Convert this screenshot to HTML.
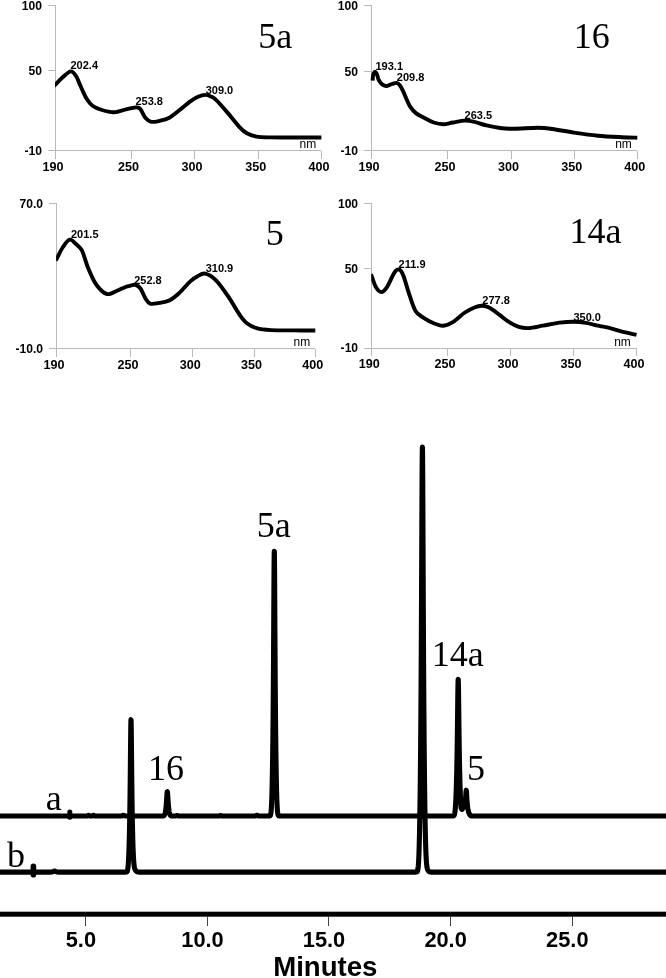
<!DOCTYPE html>
<html><head><meta charset="utf-8"><title>HPLC chromatogram and UV spectra</title>
<style>
html,body{margin:0;padding:0;background:#fff;}
body{width:666px;height:978px;overflow:hidden;}
svg{display:block;}
text{fill:#000;}
.ab12 text{font-family:"Liberation Sans",Arial,sans-serif;font-weight:bold;font-size:12.1px;}
.ab12x text{font-family:"Liberation Sans",Arial,sans-serif;font-weight:bold;font-size:12.6px;}
.ab11 text{font-family:"Liberation Sans",Arial,sans-serif;font-weight:bold;font-size:11px;}
.ab19 text{font-family:"Liberation Sans",Arial,sans-serif;font-weight:bold;font-size:21.8px;}
.nm{font-family:"Liberation Sans",Arial,sans-serif;font-size:12px;}
.minutes{font-family:"Liberation Sans",Arial,sans-serif;font-weight:bold;font-size:27.6px;}
.ser34{font-family:"Liberation Serif","Times New Roman",serif;font-size:36px;}
.ser35 text{font-family:"Liberation Serif","Times New Roman",serif;font-size:36px;}
</style></head><body>
<svg width="666" height="978" viewBox="0 0 666 978">
<rect width="666" height="978" fill="#fff"/>
<g stroke="#b9b9b9" stroke-width="1" fill="none" shape-rendering="crispEdges">
<line x1="55.5" y1="5.5" x2="55.5" y2="158.5"/>
<line x1="47.5" y1="150.5" x2="321.4" y2="150.5"/>
<line x1="47.5" y1="5.5" x2="55.5" y2="5.5"/>
<line x1="47.5" y1="70.5" x2="55.5" y2="70.5"/>
<line x1="131.0" y1="150.5" x2="131.0" y2="158.5"/>
<line x1="194.5" y1="150.5" x2="194.5" y2="158.5"/>
<line x1="258.2" y1="150.5" x2="258.2" y2="158.5"/>
<line x1="321.4" y1="150.5" x2="321.4" y2="158.5"/>
</g>
<g class="ab12">
<text x="41.9" y="9.8" text-anchor="end">100</text>
<text x="41.9" y="74.8" text-anchor="end">50</text>
<text x="41.9" y="154.8" text-anchor="end">-10</text>
</g>
<g class="ab12x">
<text x="53.0" y="170.8" text-anchor="middle">190</text>
<text x="128.5" y="170.8" text-anchor="middle">250</text>
<text x="192.0" y="170.8" text-anchor="middle">300</text>
<text x="255.7" y="170.8" text-anchor="middle">350</text>
<text x="318.9" y="170.8" text-anchor="middle">400</text>
</g>
<clipPath id="cp1"><rect x="55.0" y="0.5" width="271.9" height="150.0"/></clipPath>
<path clip-path="url(#cp1)" d="M53.16,86.71 C53.52,86.36 53.66,86.22 55.30,84.60 C56.94,82.98 60.42,79.20 63.00,77.00 C65.58,74.80 68.63,71.57 70.80,71.40 C72.97,71.23 74.30,73.40 76.00,76.00 C77.70,78.60 79.25,83.25 81.00,87.00 C82.75,90.75 84.58,95.38 86.50,98.50 C88.42,101.62 89.92,103.78 92.50,105.70 C95.08,107.62 98.42,108.92 102.00,110.00 C105.58,111.08 110.00,112.32 114.00,112.20 C118.00,112.08 122.83,110.03 126.00,109.30 C129.17,108.57 131.17,108.12 133.00,107.80 C134.83,107.48 135.75,107.15 137.00,107.40 C138.25,107.65 139.12,107.58 140.50,109.30 C141.88,111.02 143.50,115.62 145.30,117.70 C147.10,119.78 148.90,121.28 151.30,121.80 C153.70,122.32 156.70,121.48 159.70,120.80 C162.70,120.12 166.08,119.42 169.30,117.70 C172.52,115.98 175.55,113.17 179.00,110.50 C182.45,107.83 186.83,103.98 190.00,101.70 C193.17,99.42 195.45,97.93 198.00,96.80 C200.55,95.67 203.17,94.95 205.30,94.90 C207.43,94.85 209.05,95.70 210.80,96.50 C212.55,97.30 212.98,96.97 215.80,99.70 C218.62,102.43 223.72,108.30 227.70,112.90 C231.68,117.50 236.50,123.90 239.70,127.30 C242.90,130.70 244.10,131.75 246.90,133.30 C249.70,134.85 252.50,135.92 256.50,136.60 C260.50,137.28 264.48,137.26 270.90,137.40 C277.32,137.54 286.58,137.44 295.00,137.45 C303.42,137.46 317.00,137.45 321.40,137.45" fill="none" stroke="#000" stroke-width="3.9" stroke-linecap="butt" stroke-linejoin="round"/>
<g class="ab11">
<text x="70.5" y="69.2">202.4</text>
<text x="135.4" y="105.3">253.8</text>
<text x="205.7" y="93.5">309.0</text>
</g>
<text class="nm" x="299.5" y="148.4">nm</text>
<text class="ser34" x="258.2" y="48.0">5a</text>
<g stroke="#b9b9b9" stroke-width="1" fill="none" shape-rendering="crispEdges">
<line x1="371.5" y1="5.5" x2="371.5" y2="158.5"/>
<line x1="363.5" y1="150.5" x2="637.3" y2="150.5"/>
<line x1="363.5" y1="5.5" x2="371.5" y2="5.5"/>
<line x1="363.5" y1="71.5" x2="371.5" y2="71.5"/>
<line x1="447.4" y1="150.5" x2="447.4" y2="158.5"/>
<line x1="511.1" y1="150.5" x2="511.1" y2="158.5"/>
<line x1="574.3" y1="150.5" x2="574.3" y2="158.5"/>
<line x1="637.3" y1="150.5" x2="637.3" y2="158.5"/>
</g>
<g class="ab12">
<text x="357.9" y="9.8" text-anchor="end">100</text>
<text x="357.9" y="75.8" text-anchor="end">50</text>
<text x="357.9" y="154.8" text-anchor="end">-10</text>
</g>
<g class="ab12x">
<text x="369.0" y="170.8" text-anchor="middle">190</text>
<text x="444.9" y="170.8" text-anchor="middle">250</text>
<text x="508.6" y="170.8" text-anchor="middle">300</text>
<text x="571.8" y="170.8" text-anchor="middle">350</text>
<text x="634.8" y="170.8" text-anchor="middle">400</text>
</g>
<path d="M372.60,80.60 C372.65,79.92 372.72,77.72 372.90,76.50 C373.08,75.28 373.35,74.08 373.70,73.30 C374.05,72.52 374.55,71.80 375.00,71.80 C375.45,71.80 375.97,72.53 376.40,73.30 C376.83,74.07 377.18,75.25 377.60,76.40 C378.02,77.55 378.13,78.87 378.90,80.20 C379.67,81.53 380.88,83.43 382.20,84.40 C383.52,85.37 385.17,86.07 386.80,86.00 C388.43,85.93 390.38,84.52 392.00,84.00 C393.62,83.48 395.17,82.65 396.50,82.90 C397.83,83.15 398.88,84.10 400.00,85.50 C401.12,86.90 402.08,88.97 403.20,91.30 C404.32,93.63 405.52,96.90 406.70,99.50 C407.88,102.10 408.72,104.58 410.30,106.90 C411.88,109.22 413.92,111.60 416.20,113.40 C418.48,115.20 421.08,116.18 424.00,117.70 C426.92,119.22 430.48,121.42 433.70,122.50 C436.92,123.58 440.10,124.20 443.30,124.20 C446.50,124.20 449.30,123.10 452.90,122.50 C456.50,121.90 461.30,120.72 464.90,120.60 C468.50,120.48 470.90,121.00 474.50,121.80 C478.10,122.60 482.25,124.37 486.50,125.40 C490.75,126.43 495.42,127.43 500.00,128.00 C504.58,128.57 507.67,128.83 514.00,128.80 C520.33,128.77 531.58,127.77 538.00,127.80 C544.42,127.83 546.50,128.20 552.50,129.00 C558.50,129.80 566.42,131.48 574.00,132.60 C581.58,133.72 590.00,134.93 598.00,135.70 C606.00,136.47 615.45,136.87 622.00,137.20 C628.55,137.53 634.75,137.62 637.30,137.70" fill="none" stroke="#000" stroke-width="3.9" stroke-linecap="butt" stroke-linejoin="round"/>
<g class="ab11">
<text x="375.5" y="69.5">193.1</text>
<text x="396.8" y="80.8">209.8</text>
<text x="464.6" y="119.1">263.5</text>
</g>
<text class="nm" x="615.2" y="148.2">nm</text>
<text class="ser34" x="573.8" y="47.9">16</text>
<g stroke="#b9b9b9" stroke-width="1" fill="none" shape-rendering="crispEdges">
<line x1="56.6" y1="203.6" x2="56.6" y2="356.8"/>
<line x1="48.6" y1="348.8" x2="315.3" y2="348.8"/>
<line x1="48.6" y1="203.6" x2="56.6" y2="203.6"/>
<line x1="130.4" y1="348.8" x2="130.4" y2="356.8"/>
<line x1="192.8" y1="348.8" x2="192.8" y2="356.8"/>
<line x1="254.1" y1="348.8" x2="254.1" y2="356.8"/>
<line x1="315.3" y1="348.8" x2="315.3" y2="356.8"/>
</g>
<g class="ab12">
<text x="43.0" y="207.9" text-anchor="end">70.0</text>
<text x="43.0" y="353.1" text-anchor="end">-10.0</text>
</g>
<g class="ab12x">
<text x="54.1" y="369.1" text-anchor="middle">190</text>
<text x="127.9" y="369.1" text-anchor="middle">250</text>
<text x="190.3" y="369.1" text-anchor="middle">300</text>
<text x="251.6" y="369.1" text-anchor="middle">350</text>
<text x="312.8" y="369.1" text-anchor="middle">400</text>
</g>
<clipPath id="cp3"><rect x="56.1" y="198.6" width="264.7" height="150.2"/></clipPath>
<path clip-path="url(#cp3)" d="M55.68,260.64 C55.92,260.20 55.88,260.27 57.10,258.00 C58.32,255.73 60.92,250.05 63.00,247.00 C65.08,243.95 67.43,240.20 69.60,239.70 C71.77,239.20 73.98,242.28 76.00,244.00 C78.02,245.72 80.25,247.67 81.70,250.00 C83.15,252.33 83.70,255.18 84.70,258.00 C85.70,260.82 86.00,262.82 87.70,266.90 C89.40,270.98 92.77,278.72 94.90,282.50 C97.03,286.28 98.90,287.85 100.50,289.60 C102.10,291.35 103.28,292.25 104.50,293.00 C105.72,293.75 106.63,294.05 107.80,294.10 C108.97,294.15 110.13,293.77 111.50,293.30 C112.87,292.83 113.57,292.38 116.00,291.30 C118.43,290.22 123.43,287.82 126.10,286.80 C128.77,285.78 130.40,285.52 132.00,285.20 C133.60,284.88 134.28,284.35 135.70,284.90 C137.12,285.45 138.90,286.30 140.50,288.50 C142.10,290.70 143.70,295.58 145.30,298.10 C146.90,300.62 147.70,302.80 150.10,303.60 C152.50,304.40 156.50,303.42 159.70,302.90 C162.90,302.38 166.08,302.10 169.30,300.50 C172.52,298.90 175.55,296.45 179.00,293.30 C182.45,290.15 186.92,284.45 190.00,281.60 C193.08,278.75 194.95,277.53 197.50,276.20 C200.05,274.87 202.25,272.95 205.30,273.60 C208.35,274.25 212.07,276.42 215.80,280.10 C219.53,283.78 223.72,289.90 227.70,295.70 C231.68,301.50 236.50,310.30 239.70,314.90 C242.90,319.50 244.10,321.10 246.90,323.30 C249.70,325.50 252.50,326.97 256.50,328.10 C260.50,329.23 264.48,329.72 270.90,330.10 C277.32,330.48 287.60,330.33 295.00,330.40 C302.40,330.47 311.92,330.48 315.30,330.50" fill="none" stroke="#000" stroke-width="3.9" stroke-linecap="butt" stroke-linejoin="round"/>
<g class="ab11">
<text x="71.0" y="237.8">201.5</text>
<text x="134.2" y="284.0">252.8</text>
<text x="205.7" y="272.0">310.9</text>
</g>
<text class="nm" x="293.5" y="346.3">nm</text>
<text class="ser34" x="265.7" y="245.3">5</text>
<g stroke="#b9b9b9" stroke-width="1" fill="none" shape-rendering="crispEdges">
<line x1="371.7" y1="203.2" x2="371.7" y2="356.1"/>
<line x1="363.7" y1="348.1" x2="636.5" y2="348.1"/>
<line x1="363.7" y1="203.2" x2="371.7" y2="203.2"/>
<line x1="363.7" y1="268.8" x2="371.7" y2="268.8"/>
<line x1="447.4" y1="348.1" x2="447.4" y2="356.1"/>
<line x1="510.4" y1="348.1" x2="510.4" y2="356.1"/>
<line x1="573.6" y1="348.1" x2="573.6" y2="356.1"/>
<line x1="636.5" y1="348.1" x2="636.5" y2="356.1"/>
</g>
<g class="ab12">
<text x="358.1" y="207.5" text-anchor="end">100</text>
<text x="358.1" y="273.1" text-anchor="end">50</text>
<text x="358.1" y="352.4" text-anchor="end">-10</text>
</g>
<g class="ab12x">
<text x="369.2" y="368.4" text-anchor="middle">190</text>
<text x="444.9" y="368.4" text-anchor="middle">250</text>
<text x="507.9" y="368.4" text-anchor="middle">300</text>
<text x="571.1" y="368.4" text-anchor="middle">350</text>
<text x="634.0" y="368.4" text-anchor="middle">400</text>
</g>
<clipPath id="cp4"><rect x="371.2" y="198.2" width="270.8" height="149.9"/></clipPath>
<path clip-path="url(#cp4)" d="M370.91,274.20 C371.09,274.67 371.15,274.82 372.00,277.00 C372.85,279.18 374.45,284.78 376.00,287.30 C377.55,289.82 379.50,292.10 381.30,292.10 C383.10,292.10 384.87,290.10 386.80,287.30 C388.73,284.50 391.38,278.07 392.90,275.30 C394.42,272.53 394.98,271.68 395.90,270.70 C396.82,269.72 397.57,269.38 398.40,269.40 C399.23,269.42 400.02,269.62 400.90,270.80 C401.78,271.98 402.23,272.35 403.70,276.50 C405.17,280.65 407.70,289.90 409.70,295.70 C411.70,301.50 413.50,307.70 415.70,311.30 C417.90,314.90 419.90,315.30 422.90,317.30 C425.90,319.30 430.30,321.90 433.70,323.30 C437.10,324.70 440.10,325.90 443.30,325.70 C446.50,325.50 449.30,324.30 452.90,322.10 C456.50,319.90 461.30,314.93 464.90,312.50 C468.50,310.07 471.70,308.62 474.50,307.50 C477.30,306.38 479.53,305.92 481.70,305.80 C483.87,305.68 485.88,306.28 487.50,306.80 C489.12,307.32 489.38,307.55 491.40,308.90 C493.42,310.25 496.63,312.70 499.60,314.90 C502.57,317.10 506.00,320.10 509.20,322.10 C512.40,324.10 515.60,325.90 518.80,326.90 C522.00,327.90 524.38,328.30 528.40,328.10 C532.42,327.90 537.68,326.62 542.90,325.70 C548.12,324.78 554.50,323.27 559.70,322.60 C564.90,321.93 569.70,321.65 574.10,321.70 C578.50,321.75 582.10,322.23 586.10,322.90 C590.10,323.57 594.10,324.83 598.10,325.70 C602.10,326.57 606.10,327.10 610.10,328.10 C614.10,329.10 617.70,330.57 622.10,331.70 C626.50,332.83 634.10,334.37 636.50,334.90" fill="none" stroke="#000" stroke-width="3.9" stroke-linecap="butt" stroke-linejoin="round"/>
<g class="ab11">
<text x="398.6" y="267.8">211.9</text>
<text x="482.3" y="303.5">277.8</text>
<text x="573.4" y="320.6">350.0</text>
</g>
<text class="nm" x="614.2" y="346.0">nm</text>
<text class="ser34" x="569.4" y="243.4">14a</text>
<g fill="none" stroke="#000" stroke-width="5.1" stroke-linejoin="round" stroke-linecap="round">
<path d="M-3.00,816.00 L86.65,816.00 L86.80,815.99 L86.95,815.98 L87.00,815.98 L87.10,815.97 L87.25,815.94 L87.40,815.91 L87.55,815.85 L87.70,815.77 L87.85,815.68 L88.00,815.58 L88.15,815.47 L88.30,815.38 L88.45,815.32 L88.60,815.30 L88.75,815.32 L88.90,815.38 L89.05,815.47 L89.20,815.58 L89.35,815.68 L89.50,815.77 L89.65,815.85 L89.80,815.91 L89.95,815.94 L90.10,815.97 L90.25,815.98 L90.40,815.99 L90.55,816.00 L91.55,816.00 L91.70,815.99 L91.85,815.98 L92.00,815.97 L92.15,815.94 L92.30,815.91 L92.45,815.85 L92.60,815.77 L92.75,815.68 L92.90,815.58 L93.00,815.51 L93.05,815.47 L93.20,815.38 L93.35,815.32 L93.50,815.30 L93.65,815.32 L93.80,815.38 L93.95,815.47 L94.10,815.58 L94.25,815.68 L94.40,815.77 L94.55,815.85 L94.70,815.91 L94.85,815.94 L95.00,815.97 L95.15,815.98 L95.30,815.99 L95.45,816.00 L120.80,815.99 L120.95,815.99 L121.10,815.98 L121.25,815.97 L121.40,815.96 L121.55,815.94 L121.70,815.91 L121.85,815.86 L122.00,815.81 L122.15,815.75 L122.30,815.68 L122.45,815.60 L122.60,815.52 L122.75,815.45 L122.90,815.38 L123.00,815.35 L123.05,815.33 L123.20,815.31 L123.35,815.30 L123.50,815.32 L123.65,815.36 L123.80,815.42 L123.95,815.50 L124.10,815.58 L124.25,815.65 L124.40,815.73 L124.55,815.79 L124.70,815.85 L124.85,815.89 L125.00,815.93 L125.15,815.95 L125.30,815.97 L125.45,815.98 L125.60,815.99 L125.75,815.99 L126.05,816.00 L162.56,815.99 L162.71,815.99 L162.86,815.98 L163.01,815.97 L163.16,815.95 L163.31,815.93 L163.46,815.89 L163.61,815.84 L163.76,815.77 L163.91,815.67 L164.06,815.53 L164.21,815.36 L164.36,815.14 L164.51,814.86 L164.66,814.52 L164.81,814.11 L164.96,813.63 L165.00,813.49 L165.11,813.06 L165.26,812.41 L165.41,811.65 L165.56,810.78 L165.71,809.78 L165.86,808.64 L166.01,807.33 L166.16,805.84 L166.31,804.12 L166.46,802.15 L166.61,799.91 L166.76,797.46 L166.91,795.01 L167.06,792.98 L167.21,791.80 L167.36,791.69 L167.51,792.67 L167.66,794.55 L167.81,796.95 L167.96,799.43 L168.11,801.72 L168.26,803.75 L168.41,805.51 L168.56,807.05 L168.71,808.39 L168.86,809.56 L169.01,810.59 L169.16,811.48 L169.31,812.26 L169.46,812.94 L169.61,813.52 L169.76,814.02 L169.91,814.45 L170.06,814.80 L170.21,815.09 L170.36,815.32 L170.51,815.50 L170.66,815.64 L170.81,815.75 L170.96,815.83 L171.00,815.84 L171.11,815.88 L171.26,815.92 L171.41,815.95 L171.56,815.97 L171.71,815.98 L171.86,815.99 L172.01,815.99 L172.31,816.00 L174.65,815.99 L174.80,815.99 L174.95,815.98 L175.10,815.97 L175.25,815.95 L175.40,815.93 L175.55,815.90 L175.70,815.87 L175.85,815.82 L176.00,815.77 L176.15,815.72 L176.30,815.66 L176.45,815.61 L176.60,815.56 L176.75,815.52 L176.90,815.50 L177.05,815.50 L177.20,815.52 L177.35,815.55 L177.50,815.59 L177.65,815.64 L177.80,815.70 L177.95,815.75 L178.10,815.81 L178.25,815.85 L178.40,815.89 L178.55,815.92 L178.70,815.95 L178.85,815.97 L179.00,815.98 L179.15,815.99 L179.30,815.99 L179.60,816.00 L218.70,815.99 L218.85,815.99 L219.00,815.98 L219.15,815.96 L219.30,815.93 L219.45,815.89 L219.60,815.84 L219.75,815.77 L219.90,815.70 L220.05,815.62 L220.20,815.56 L220.35,815.52 L220.50,815.50 L220.65,815.52 L220.80,815.56 L220.95,815.62 L221.10,815.70 L221.25,815.77 L221.40,815.84 L221.55,815.89 L221.70,815.93 L221.85,815.96 L222.00,815.98 L222.15,815.99 L222.30,815.99 L222.60,816.00 L254.85,815.99 L255.00,815.99 L255.15,815.98 L255.30,815.96 L255.45,815.93 L255.60,815.89 L255.75,815.84 L255.90,815.77 L256.05,815.68 L256.20,815.58 L256.35,815.48 L256.50,815.38 L256.65,815.29 L256.80,815.23 L256.95,815.20 L257.10,815.21 L257.25,815.25 L257.40,815.32 L257.55,815.41 L257.70,815.51 L257.85,815.62 L258.00,815.71 L258.15,815.79 L258.30,815.86 L258.45,815.91 L258.60,815.94 L258.75,815.96 L258.90,815.98 L259.05,815.99 L259.20,815.99 L259.50,816.00 L269.12,815.99 L269.27,815.98 L269.42,815.97 L269.57,815.95 L269.72,815.92 L269.87,815.86 L270.02,815.77 L270.17,815.63 L270.32,815.42 L270.47,815.09 L270.62,814.62 L270.77,813.94 L270.92,812.99 L271.07,811.70 L271.22,809.99 L271.37,807.77 L271.52,804.96 L271.67,801.49 L271.82,797.26 L271.97,792.19 L272.12,786.20 L272.27,779.19 L272.42,771.06 L272.57,761.68 L272.72,750.91 L272.87,738.54 L273.00,726.35 L273.02,724.34 L273.10,715.92 L273.14,711.47 L273.17,708.02 L273.18,706.84 L273.22,702.04 L273.26,697.05 L273.30,691.86 L273.32,689.20 L273.34,686.48 L273.38,680.89 L273.42,675.08 L273.46,669.05 L273.47,667.51 L273.50,662.81 L273.54,656.34 L273.58,649.66 L273.62,642.77 L273.66,635.69 L273.70,628.46 L273.74,621.10 L273.77,615.53 L273.78,613.67 L273.82,606.25 L273.86,598.90 L273.90,591.74 L273.92,588.26 L273.94,584.86 L273.98,578.38 L274.02,572.40 L274.06,567.03 L274.07,565.79 L274.10,562.35 L274.14,558.44 L274.18,555.34 L274.22,553.10 L274.26,551.75 L274.30,551.30 L274.34,551.75 L274.37,552.68 L274.38,553.10 L274.42,555.34 L274.46,558.44 L274.50,562.35 L274.52,564.60 L274.54,567.03 L274.58,572.40 L274.62,578.38 L274.66,584.86 L274.67,586.55 L274.70,591.74 L274.74,598.90 L274.78,606.25 L274.82,613.67 L274.86,621.10 L274.90,628.46 L274.94,635.69 L274.97,641.02 L274.98,642.77 L275.02,649.66 L275.06,656.34 L275.10,662.81 L275.12,665.96 L275.14,669.05 L275.18,675.08 L275.22,680.89 L275.26,686.48 L275.27,687.85 L275.30,691.86 L275.34,697.05 L275.38,702.04 L275.42,706.84 L275.46,711.47 L275.57,723.32 L275.72,737.65 L275.87,750.13 L276.02,761.01 L276.17,770.47 L276.32,778.68 L276.47,785.76 L276.62,791.82 L276.77,796.95 L276.92,801.23 L277.07,804.75 L277.22,807.60 L277.37,809.85 L277.52,811.60 L277.67,812.91 L277.82,813.88 L277.97,814.58 L278.12,815.07 L278.27,815.40 L278.42,815.62 L278.57,815.76 L278.72,815.86 L278.87,815.91 L279.00,815.95 L279.02,815.95 L279.17,815.97 L279.32,815.98 L279.47,815.99 L279.62,816.00 L280.07,816.00 L452.53,815.99 L452.68,815.99 L452.83,815.98 L452.98,815.97 L453.00,815.97 L453.13,815.96 L453.28,815.93 L453.43,815.90 L453.58,815.84 L453.73,815.75 L453.88,815.63 L454.03,815.45 L454.18,815.20 L454.33,814.85 L454.48,814.39 L454.63,813.78 L454.78,812.99 L454.93,811.99 L455.08,810.75 L455.23,809.24 L455.38,807.42 L455.53,805.26 L455.68,802.74 L455.83,799.81 L455.98,796.44 L456.13,792.59 L456.28,788.21 L456.43,783.25 L456.58,777.63 L456.73,771.26 L456.88,764.03 L457.00,757.55 L457.03,755.82 L457.04,755.24 L457.08,752.84 L457.12,750.36 L457.16,747.80 L457.18,746.48 L457.20,745.15 L457.24,742.40 L457.28,739.56 L457.32,736.63 L457.33,735.88 L457.36,733.61 L457.40,730.49 L457.44,727.29 L457.48,724.00 L457.52,720.65 L457.56,717.23 L457.60,713.78 L457.63,711.18 L457.64,710.31 L457.68,706.85 L457.72,703.43 L457.76,700.10 L457.78,698.47 L457.80,696.88 L457.84,693.84 L457.88,691.00 L457.92,688.40 L457.93,687.80 L457.96,686.09 L458.00,684.09 L458.04,682.42 L458.08,681.11 L458.12,680.16 L458.16,679.59 L458.20,679.40 L458.23,679.51 L458.24,679.59 L458.28,680.16 L458.32,681.11 L458.36,682.42 L458.38,683.21 L458.40,684.09 L458.44,686.09 L458.48,688.40 L458.52,691.00 L458.53,691.69 L458.56,693.84 L458.60,696.88 L458.64,700.10 L458.68,703.43 L458.72,706.85 L458.76,710.31 L458.80,713.78 L458.83,716.37 L458.84,717.23 L458.88,720.65 L458.92,724.00 L458.96,727.29 L458.98,728.90 L459.00,730.49 L459.04,733.61 L459.08,736.63 L459.12,739.56 L459.13,740.28 L459.16,742.40 L459.20,745.15 L459.24,747.80 L459.28,750.36 L459.32,752.84 L459.36,755.24 L459.43,759.23 L459.58,767.03 L459.73,773.90 L459.88,779.96 L460.03,785.31 L460.18,790.03 L460.33,794.19 L460.44,796.92 L460.48,797.84 L460.59,800.22 L460.63,801.03 L460.74,803.09 L460.78,803.79 L460.89,805.57 L460.93,806.17 L461.04,807.68 L461.08,807.99 L461.19,808.23 L461.23,808.32 L461.34,808.54 L461.38,808.62 L461.49,808.82 L461.53,808.88 L461.64,809.05 L461.68,809.11 L461.79,809.25 L461.83,809.29 L461.94,809.38 L461.98,809.40 L462.09,809.36 L462.13,809.33 L462.24,809.21 L462.28,809.16 L462.30,809.14 L462.39,809.01 L462.43,808.95 L462.45,808.92 L462.54,808.77 L462.58,808.69 L462.60,808.66 L462.69,808.48 L462.73,808.40 L462.75,808.36 L462.84,808.17 L462.88,808.08 L462.90,808.03 L462.99,807.82 L463.03,807.73 L463.05,807.68 L463.14,807.45 L463.18,807.35 L463.20,807.30 L463.29,807.06 L463.33,806.95 L463.35,806.89 L463.44,806.64 L463.48,806.52 L463.50,806.46 L463.59,806.19 L463.63,806.07 L463.65,806.01 L463.74,805.73 L463.78,805.60 L463.80,805.54 L463.89,805.24 L463.93,805.11 L463.95,805.04 L464.04,804.74 L464.08,804.60 L464.10,804.53 L464.19,804.21 L464.23,804.07 L464.25,804.00 L464.34,803.67 L464.38,803.53 L464.40,803.45 L464.49,803.11 L464.53,802.96 L464.55,802.88 L464.64,802.54 L464.68,802.38 L464.70,802.30 L464.79,801.94 L464.83,801.78 L464.85,801.70 L464.94,801.33 L465.00,801.09 L465.09,800.71 L465.15,800.45 L465.24,800.07 L465.30,799.81 L465.39,799.41 L465.45,799.15 L465.54,798.74 L465.60,798.47 L465.69,796.83 L465.75,795.68 L465.84,794.01 L465.90,792.99 L465.99,791.69 L466.05,791.03 L466.14,790.41 L466.20,790.26 L466.29,790.43 L466.35,790.80 L466.44,791.71 L466.50,792.52 L466.59,793.94 L466.65,794.97 L466.74,796.55 L466.80,797.58 L466.89,799.04 L466.95,799.96 L467.04,801.24 L467.10,802.02 L467.19,803.11 L467.25,803.77 L467.34,804.69 L467.40,805.26 L467.49,806.04 L467.55,806.53 L467.64,807.20 L467.70,807.62 L467.79,808.21 L467.85,808.57 L467.94,809.09 L468.00,809.41 L468.09,809.86 L468.15,810.15 L468.24,810.55 L468.30,810.81 L468.39,811.18 L468.45,811.41 L468.54,811.74 L468.60,811.94 L468.69,812.24 L468.75,812.43 L468.84,812.70 L468.90,812.88 L468.99,813.12 L469.05,813.28 L469.14,813.50 L469.20,813.64 L469.29,813.84 L469.35,813.97 L469.44,814.15 L469.50,814.26 L469.59,814.42 L469.65,814.53 L469.74,814.67 L469.80,814.76 L469.89,814.89 L469.95,814.97 L470.04,815.08 L470.10,815.15 L470.19,815.25 L470.25,815.31 L470.34,815.39 L470.40,815.45 L470.49,815.52 L470.55,815.56 L470.64,815.62 L470.70,815.66 L470.79,815.71 L470.85,815.74 L470.94,815.78 L471.00,815.80 L471.09,815.83 L471.15,815.85 L471.24,815.88 L471.30,815.89 L471.39,815.91 L471.45,815.92 L471.54,815.93 L471.60,815.94 L471.69,815.95 L471.75,815.96 L471.84,815.97 L471.90,815.97 L472.05,815.98 L472.20,815.99 L472.35,815.99 L472.65,816.00 L669.00,816.00"/>
<path d="M-3.00,872.10 L50.60,872.09 L50.90,872.09 L51.05,872.08 L51.20,872.08 L51.35,872.07 L51.50,872.06 L51.65,872.04 L51.80,872.02 L51.95,872.00 L52.10,871.96 L52.25,871.93 L52.40,871.88 L52.55,871.83 L52.70,871.78 L52.85,871.71 L53.00,871.64 L53.15,871.57 L53.30,871.49 L53.45,871.42 L53.60,871.35 L53.75,871.28 L53.90,871.22 L54.05,871.17 L54.20,871.13 L54.35,871.11 L54.50,871.10 L54.65,871.11 L54.80,871.13 L54.95,871.17 L55.10,871.22 L55.25,871.28 L55.40,871.35 L55.55,871.42 L55.70,871.49 L55.85,871.57 L56.00,871.64 L56.15,871.71 L56.30,871.78 L56.45,871.83 L56.60,871.88 L56.75,871.93 L56.90,871.96 L57.00,871.99 L57.05,872.00 L57.20,872.02 L57.35,872.04 L57.50,872.06 L57.65,872.07 L57.80,872.08 L57.95,872.08 L58.10,872.09 L58.40,872.09 L59.00,872.10 L125.81,872.09 L125.96,872.09 L126.11,872.08 L126.26,872.06 L126.41,872.03 L126.50,872.01 L126.56,871.99 L126.65,871.95 L126.71,871.92 L126.80,871.86 L126.86,871.81 L126.95,871.73 L127.01,871.66 L127.10,871.53 L127.16,871.43 L127.25,871.25 L127.31,871.10 L127.40,870.84 L127.46,870.64 L127.55,870.29 L127.61,870.02 L127.70,869.54 L127.76,869.18 L127.85,868.56 L127.91,868.10 L128.00,867.31 L128.06,866.72 L128.15,865.72 L128.21,864.99 L128.30,863.78 L128.36,862.88 L128.45,861.42 L128.51,860.35 L128.60,858.60 L128.66,857.33 L128.75,855.28 L128.81,853.80 L128.90,851.41 L128.96,849.70 L129.00,848.50 L129.05,846.94 L129.11,844.97 L129.20,841.80 L129.26,839.54 L129.35,835.90 L129.41,833.31 L129.50,829.16 L129.56,826.20 L129.65,821.45 L129.71,818.06 L129.80,812.61 L129.84,810.05 L129.86,808.72 L129.88,807.38 L129.92,804.61 L129.95,802.47 L129.96,801.74 L130.00,798.76 L130.01,798.00 L130.04,795.67 L130.08,792.46 L130.10,790.82 L130.12,789.14 L130.16,785.69 L130.20,782.12 L130.24,778.43 L130.25,777.49 L130.28,774.63 L130.31,771.71 L130.32,770.72 L130.36,766.71 L130.40,762.62 L130.44,758.47 L130.46,756.39 L130.48,754.30 L130.52,750.14 L130.55,747.06 L130.56,746.05 L130.60,742.06 L130.61,741.09 L130.64,738.25 L130.68,734.66 L130.70,732.97 L130.72,731.36 L130.76,728.40 L130.80,725.82 L130.84,723.67 L130.85,723.20 L130.88,721.96 L130.91,720.98 L130.92,720.72 L130.96,719.96 L131.00,719.69 L131.04,719.92 L131.06,720.21 L131.08,720.63 L131.12,721.83 L131.15,723.03 L131.16,723.49 L131.20,725.61 L131.21,726.20 L131.24,728.14 L131.28,731.06 L131.30,732.65 L131.32,734.31 L131.36,737.85 L131.40,741.62 L131.44,745.56 L131.45,746.57 L131.48,749.62 L131.51,752.70 L131.52,753.73 L131.56,757.85 L131.60,761.95 L131.64,766.00 L131.66,767.99 L131.68,769.96 L131.72,773.82 L131.75,776.65 L131.76,777.58 L131.80,781.22 L131.81,782.11 L131.84,784.74 L131.88,788.14 L131.90,789.79 L131.92,791.41 L131.96,794.57 L132.00,797.62 L132.04,800.54 L132.05,801.26 L132.08,803.37 L132.11,805.41 L132.12,806.08 L132.16,808.70 L132.20,811.21 L132.26,814.82 L132.35,819.86 L132.41,822.99 L132.50,827.38 L132.56,830.10 L132.65,833.93 L132.71,836.31 L132.80,839.64 L132.86,841.71 L132.95,844.61 L133.01,846.41 L133.10,848.92 L133.16,850.47 L133.25,852.64 L133.31,853.98 L133.40,855.83 L133.46,856.98 L133.55,858.55 L133.61,859.51 L133.70,860.84 L133.76,861.64 L133.85,862.74 L133.91,863.41 L134.00,864.31 L134.06,864.85 L134.15,865.58 L134.21,866.02 L134.30,866.60 L134.36,866.95 L134.45,867.42 L134.51,867.70 L134.60,868.08 L134.66,868.30 L134.75,868.60 L134.81,868.78 L134.90,869.03 L134.96,869.18 L135.00,869.27 L135.05,869.38 L135.11,869.51 L135.20,869.68 L135.26,869.79 L135.35,869.95 L135.41,870.05 L135.50,870.19 L135.56,870.28 L135.65,870.41 L135.71,870.49 L135.80,870.61 L135.86,870.68 L135.95,870.79 L136.01,870.86 L136.10,870.96 L136.16,871.03 L136.25,871.12 L136.31,871.18 L136.40,871.26 L136.46,871.32 L136.55,871.39 L136.61,871.44 L136.70,871.51 L136.76,871.55 L136.85,871.61 L136.91,871.64 L137.00,871.69 L137.06,871.73 L137.15,871.77 L137.21,871.80 L137.30,871.83 L137.45,871.89 L137.60,871.93 L137.75,871.97 L137.90,872.00 L138.05,872.02 L138.20,872.04 L138.35,872.06 L138.50,872.07 L138.65,872.08 L138.80,872.08 L138.95,872.09 L139.25,872.09 L139.70,872.10 L415.70,872.09 L415.85,872.09 L416.00,872.08 L416.15,872.07 L416.30,872.06 L416.45,872.03 L416.60,871.99 L416.75,871.94 L416.90,871.85 L417.00,871.78 L417.05,871.73 L417.20,871.56 L417.35,871.32 L417.50,870.98 L417.65,870.51 L417.80,869.88 L417.95,869.04 L418.10,867.93 L418.25,866.51 L418.40,864.70 L418.55,862.45 L418.70,859.67 L418.80,857.50 L418.85,856.31 L418.95,853.71 L419.00,852.29 L419.10,849.21 L419.15,847.55 L419.25,843.95 L419.30,842.01 L419.40,837.85 L419.45,835.62 L419.55,830.84 L419.60,828.29 L419.70,822.85 L419.75,819.96 L419.85,813.81 L419.90,810.55 L420.00,803.62 L420.05,799.96 L420.15,792.19 L420.20,788.09 L420.30,779.40 L420.35,774.82 L420.45,765.12 L420.50,759.99 L420.60,749.17 L420.65,743.45 L420.75,731.36 L420.80,724.97 L420.90,711.45 L420.95,704.30 L421.05,689.16 L421.10,681.15 L421.20,664.18 L421.24,657.03 L421.25,655.20 L421.28,649.65 L421.32,642.05 L421.35,636.21 L421.36,634.23 L421.40,626.18 L421.44,617.90 L421.48,609.40 L421.50,605.07 L421.52,600.68 L421.55,594.01 L421.56,591.76 L421.60,582.65 L421.64,573.37 L421.65,571.03 L421.68,563.96 L421.70,559.22 L421.72,554.45 L421.76,544.90 L421.80,535.37 L421.84,525.92 L421.85,523.58 L421.88,516.63 L421.92,507.59 L421.95,501.03 L421.96,498.89 L422.00,490.62 L422.04,482.87 L422.08,475.72 L422.10,472.39 L422.12,469.24 L422.15,464.88 L422.16,463.52 L422.20,458.58 L422.24,454.50 L422.25,453.61 L422.28,451.28 L422.30,450.01 L422.32,448.97 L422.36,447.57 L422.40,447.10 L422.44,447.56 L422.45,447.81 L422.48,448.94 L422.52,451.24 L422.55,453.56 L422.56,454.44 L422.60,458.51 L422.64,463.43 L422.68,469.14 L422.70,472.28 L422.72,475.60 L422.75,480.89 L422.76,482.74 L422.80,490.47 L422.84,498.73 L422.85,500.86 L422.88,507.41 L422.90,511.89 L422.92,516.43 L422.96,525.70 L423.00,535.14 L423.04,544.65 L423.05,547.04 L423.08,554.18 L423.12,563.67 L423.15,570.72 L423.16,573.06 L423.20,582.32 L423.24,591.41 L423.28,600.31 L423.30,604.68 L423.32,609.00 L423.35,615.38 L423.36,617.48 L423.40,625.73 L423.44,633.76 L423.45,635.73 L423.48,641.55 L423.50,645.37 L423.52,649.12 L423.56,656.47 L423.60,663.60 L423.65,672.21 L423.75,688.46 L423.80,696.13 L423.90,710.62 L423.95,717.46 L424.05,730.39 L424.10,736.49 L424.20,748.04 L424.25,753.50 L424.35,763.83 L424.40,768.71 L424.50,777.94 L424.55,782.31 L424.65,790.56 L424.70,794.45 L424.80,801.81 L424.85,805.27 L424.95,811.81 L425.00,814.89 L425.10,820.68 L425.15,823.39 L425.25,828.49 L425.30,830.88 L425.40,835.34 L425.45,837.42 L425.55,841.30 L425.60,843.10 L425.70,846.44 L425.75,847.99 L425.85,850.84 L425.90,852.15 L426.00,854.56 L426.05,855.66 L426.15,857.67 L426.20,858.59 L426.30,860.25 L426.35,861.01 L426.45,862.37 L426.50,862.98 L426.60,864.08 L426.65,864.58 L426.75,865.47 L426.80,865.86 L426.90,866.57 L426.95,866.89 L427.05,867.46 L427.10,867.72 L427.20,868.18 L427.25,868.38 L427.35,868.76 L427.40,868.92 L427.50,869.23 L427.55,869.37 L427.65,869.63 L427.70,869.74 L427.80,869.96 L427.85,870.06 L427.95,870.25 L428.00,870.33 L428.10,870.50 L428.15,870.57 L428.25,870.72 L428.30,870.79 L428.40,870.91 L428.45,870.97 L428.55,871.09 L428.60,871.14 L428.70,871.24 L428.75,871.29 L428.85,871.38 L428.90,871.42 L429.00,871.50 L429.05,871.53 L429.15,871.60 L429.20,871.63 L429.30,871.69 L429.35,871.72 L429.45,871.77 L429.50,871.79 L429.60,871.83 L429.65,871.85 L429.75,871.89 L429.80,871.90 L429.90,871.93 L429.95,871.94 L430.05,871.97 L430.20,872.00 L430.35,872.02 L430.50,872.04 L430.65,872.06 L430.80,872.07 L430.95,872.08 L431.10,872.08 L431.25,872.09 L431.55,872.09 L432.00,872.10 L669.00,872.10"/>
</g>
<rect x="421.5" y="600" width="1.8" height="219" fill="#000"/>
<rect x="130.3" y="760" width="1.4" height="100" fill="#000"/>
<rect x="67.3" y="809.4" width="5" height="10.4" rx="2.5" fill="#000"/>
<rect x="30.6" y="863.4" width="5.6" height="14.2" rx="2.8" fill="#000"/>
<rect x="0" y="911.7" width="666" height="5" fill="#000"/>
<g stroke="#444" stroke-width="1" shape-rendering="crispEdges">
<line x1="85.5" y1="916" x2="85.5" y2="926"/>
<line x1="207.5" y1="916" x2="207.5" y2="926"/>
<line x1="328.5" y1="916" x2="328.5" y2="926"/>
<line x1="450.5" y1="916" x2="450.5" y2="926"/>
<line x1="572.5" y1="916" x2="572.5" y2="926"/>
</g>
<g class="ab19">
<text x="80.9" y="946.9" text-anchor="middle">5.0</text>
<text x="202.5" y="946.9" text-anchor="middle">10.0</text>
<text x="324.0" y="946.9" text-anchor="middle">15.0</text>
<text x="445.6" y="946.9" text-anchor="middle">20.0</text>
<text x="567.3" y="946.9" text-anchor="middle">25.0</text>
</g>
<text class="minutes" x="273.2" y="975.8">Minutes</text>
<g class="ser35">
<text x="45.7" y="809.5">a</text>
<text x="7.0" y="867.2">b</text>
<text x="148" y="780.2">16</text>
<text x="256.7" y="537.2">5a</text>
<text x="431.8" y="666">14a</text>
<text x="467.1" y="780">5</text>
</g>
</svg>
</body></html>
